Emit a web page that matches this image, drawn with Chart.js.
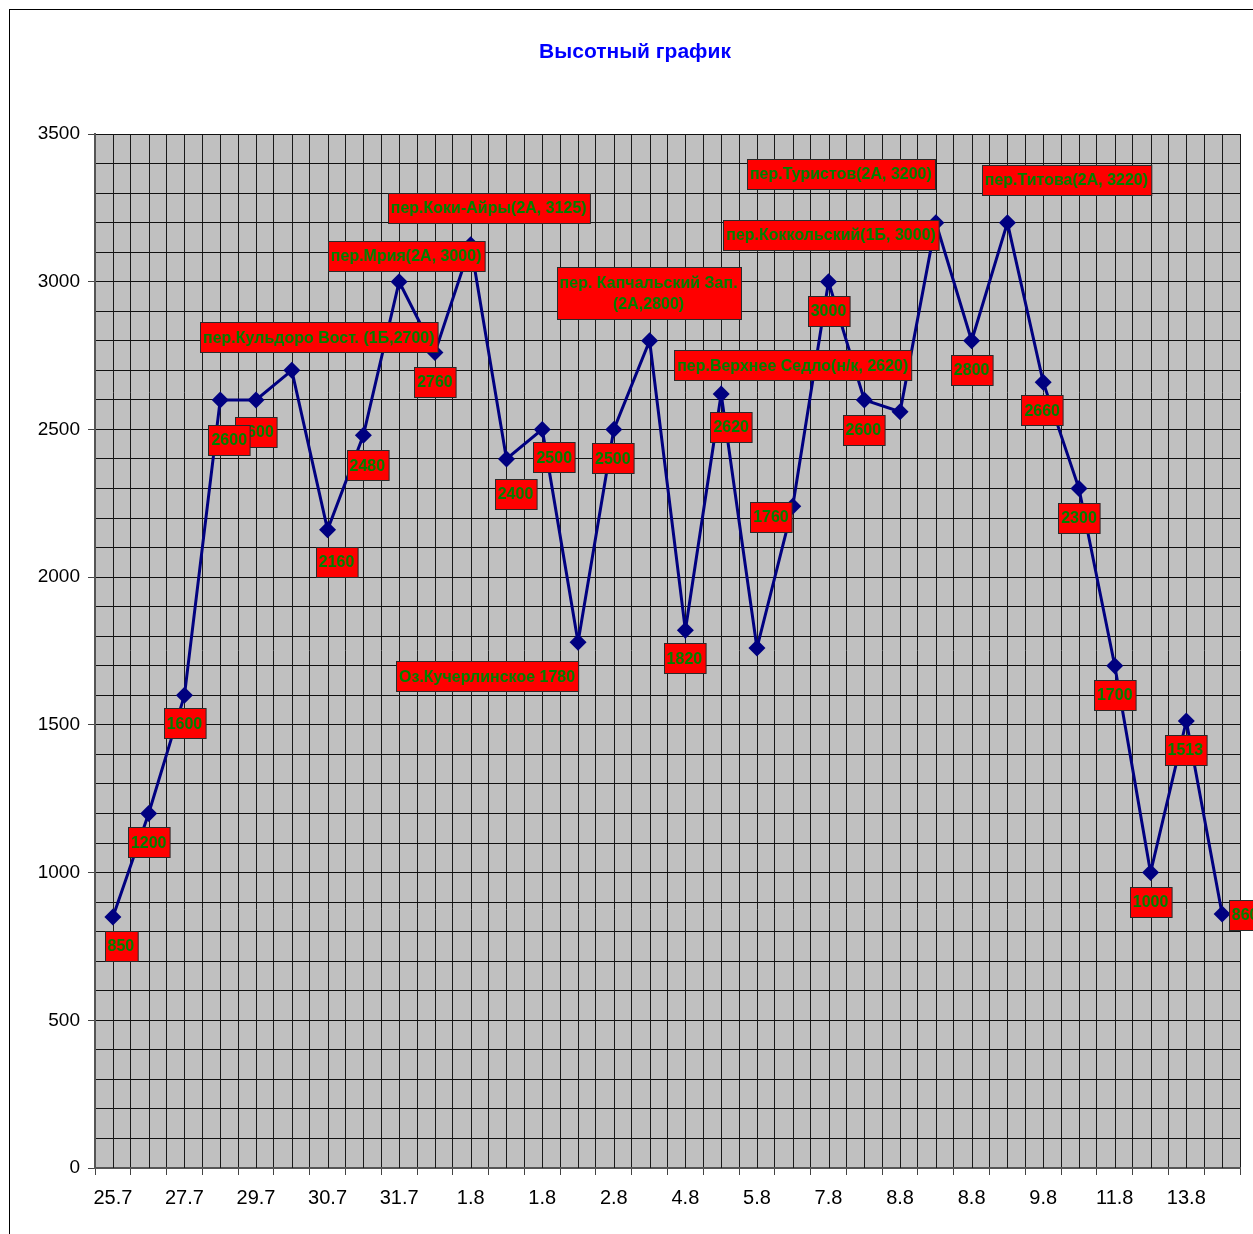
<!DOCTYPE html>
<html>
<head>
<meta charset="utf-8">
<title>Высотный график</title>
<script src="https://cdn.jsdelivr.net/npm/chart.js@4.4.0/dist/chart.umd.min.js"></script>
<style>
    html, body { margin: 0; padding: 0; background: #fff; overflow: hidden; }
    #frame { position: absolute; left: 9px; top: 9px; width: 1300px; height: 1300px;
             border-left: 1px solid #000; border-top: 1px solid #000; }
    #heightChart { position: absolute; left: 0; top: 0; }
</style>
</head>
<body>
<div id="frame"></div>
<canvas id="heightChart" width="1253" height="1234"></canvas>
<script>
// Подписи дат по оси X (показана каждая вторая)
const dayLabels = ['25.7', '', '27.7', '', '29.7', '', '30.7', '', '31.7', '', '1.8', '', '1.8', '', '2.8', '',
                   '4.8', '', '5.8', '', '7.8', '', '8.8', '', '8.8', '', '9.8', '', '11.8', '', '13.8', ''];

// Высоты точек маршрута, м
const heights = [850, 1200, 1600, 2600, 2600, 2700, 2160, 2480, 3000, 2760, 3125, 2400, 2500, 1780, 2500, 2800,
                 1820, 2620, 1760, 2240, 3000, 2600, 2560, 3200, 2800, 3200, 2660, 2300, 1700, 1000, 1513, 860];

// Подписи к точкам
const pointNotes = ['850', '1200', '1600', '2600', '2600', 'пер.Кульдоро Вост. (1Б,2700)', '2160', '2480',
                    'пер.Мрия(2А, 3000)', '2760', 'пер.Коки-Айры(2А, 3125)', '2400', '2500', 'Оз.Кучерлинское 1780',
                    '2500', ['пер. Капчальский Зап.', '(2А,2800)'], '1820', '2620', '1760',
                    'пер.Верхнее Седло(н/к, 2620)', '3000', '2600', 'пер.Коккольский(1Б, 3000)',
                    'пер.Туристов(2А, 3200)', '2800', 'пер.Титова(2А, 3220)', '2660', '2300', '1700', '1000',
                    '1513', '860'];

// Смещение подписей относительно точки (px) — как они были сдвинуты в Excel
const noteShift = [[8, 29], [0, 29], [0, 28], [9, 40], [0, 32], [27, -33], [9, 32], [4, 30], [7, -26], [0, 29],
                   [18, -37], [9, 35], [12, 28], [-91, 34], [-1, 29], [-1, -48], [-1, 28], [10, 33], [14, -131],
                   [0, -141], [0, 29], [-1, 30], [-69, -177], [-95, -49], [0, 29], [59, -43], [-1, 28], [0, 29],
                   [0, 29], [0, 29], [-1, 29], [23, 1]];

const chartTitle = 'Высотный график';
const FONT = '"Liberation Sans", Arial, sans-serif';

const plotBackground = {
    id: 'plotBackground',
    beforeDraw(chart) {
        const { ctx, chartArea: a } = chart;
        ctx.save();
        ctx.fillStyle = '#c0c0c0';
        ctx.fillRect(a.left, a.top, a.right - a.left, a.bottom - a.top);
        ctx.restore();
    },
    beforeDatasetsDraw(chart) {
        // дополнительные вертикальные линии по центрам категорий
        const { ctx, chartArea: a, scales } = chart;
        ctx.save();
        ctx.strokeStyle = '#1a1a1a';
        ctx.lineWidth = 1;
        for (let i = 0; i < dayLabels.length; i++) {
            const x = Math.round(scales.x.getPixelForValue(i)) + 0.5;
            ctx.beginPath();
            ctx.moveTo(x, a.top);
            ctx.lineTo(x, a.bottom);
            ctx.stroke();
        }
        ctx.restore();
    }
};

const noteBoxes = {
    id: 'noteBoxes',
    afterDatasetsDraw(chart) {
        const { ctx } = chart;
        const pts = chart.getDatasetMeta(0).data;
        ctx.save();
        ctx.font = 'bold 16px ' + FONT;
        ctx.textAlign = 'center';
        ctx.textBaseline = 'middle';
        for (let i = pts.length - 1; i >= 0; i--) {
            const note = pointNotes[i];
            if (!note) continue;
            const lines = Array.isArray(note) ? note : [note];
            const cx = pts[i].x + noteShift[i][0];
            const cy = pts[i].y + noteShift[i][1];
            const w = Math.max(...lines.map(t => ctx.measureText(t).width)) + 6;
            const h = lines.length > 1 ? 52 : 30;
            const x0 = Math.round(cx - w / 2) + 0.5;
            const y0 = Math.round(cy - h / 2) + 0.5;
            ctx.fillStyle = '#ff0000';
            ctx.fillRect(x0, y0, w, h);
            ctx.strokeStyle = '#2a2a2a';
            ctx.lineWidth = 1;
            ctx.strokeRect(x0, y0, w, h);
            ctx.fillStyle = '#008000';
            const lh = 21;
            lines.forEach((t, k) => {
                ctx.fillText(t, cx, cy + (k - (lines.length - 1) / 2) * lh + 1);
            });
        }
        ctx.restore();
    },
    afterDraw(chart) {
        const { ctx } = chart;
        ctx.save();
        ctx.font = 'bold 21px ' + FONT;
        ctx.fillStyle = '#0000ff';
        ctx.textAlign = 'center';
        ctx.textBaseline = 'middle';
        ctx.fillText(chartTitle, 635, 52);
        ctx.restore();
    }
};

function initializeChart(chartElementId) {
    const el = document.getElementById(chartElementId);
    if (!el) {
        console.error('canvas not found: ' + chartElementId);
        return;
    }
    new Chart(el.getContext('2d'), {
        type: 'line',
        data: {
            labels: dayLabels,
            datasets: [{
                label: 'Высота',
                data: heights,
                borderColor: '#000080',
                backgroundColor: '#000080',
                borderWidth: 3,
                tension: 0,
                pointStyle: 'rectRot',
                pointRadius: 8.5,
                pointBorderWidth: 0,
                pointBackgroundColor: '#000080',
                clip: false
            }]
        },
        options: {
            responsive: false,
            animation: false,
            layout: { padding: { top: 134, right: 13, left: 0, bottom: 0 } },
            plugins: {
                legend: { display: false },
                title: { display: false },
                tooltip: { enabled: false }
            },
            scales: {
                x: {
                    type: 'category',
                    offset: true,
                    grid: {
                        offset: true,
                        color: '#1a1a1a',
                        lineWidth: 1,
                        tickLength: 7,
                        tickColor: '#444'
                    },
                    border: { color: '#555', width: 2 },
                    ticks: {
                        autoSkip: false,
                        maxRotation: 0,
                        minRotation: 0,
                        padding: 11,
                        color: '#000',
                        font: { family: FONT, size: 20 }
                    },
                    afterFit(scale) { scale.height = 66; }
                },
                y: {
                    min: 0,
                    max: 3500,
                    grid: {
                        color: '#111',
                        lineWidth: 1,
                        tickLength: 7,
                        tickColor: ctx => (ctx.tick && ctx.tick.value % 500 === 0) ? '#444' : 'rgba(0,0,0,0)'
                    },
                    border: { color: '#555', width: 2 },
                    ticks: {
                        stepSize: 100,
                        autoSkip: false,
                        padding: 8,
                        color: '#000',
                        font: { family: FONT, size: 19 },
                        callback: v => (v % 500 === 0 ? String(v) : '')
                    },
                    afterFit(scale) { scale.width = 95; }
                }
            }
        },
        plugins: [plotBackground, noteBoxes]
    });
}

document.addEventListener('DOMContentLoaded', () => initializeChart('heightChart'));
</script>
</body>
</html>
